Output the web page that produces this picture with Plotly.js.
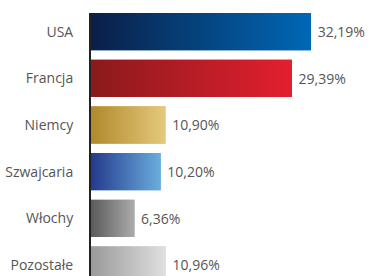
<!DOCTYPE html>
<html>
<head>
<meta charset="utf-8">
<script src="https://cdn.plot.ly/plotly-3.0.1.min.js"></script>
<style>html,body{margin:0;padding:0;background:#fff;}#chart{width:370px;height:276px;}</style>
</head>
<body>
<div id="chart"></div>
<script>
const categories = ['USA', 'Francja', 'Niemcy', 'Szwajcaria', 'Włochy', 'Pozostałe'];
const values = [32.19, 29.39, 10.90, 10.20, 6.36, 10.96];
const valueLabels = ['32,19%', '29,39%', '10,90%', '10,20%', '6,36%', '10,96%'];
const gradLeft = ['#0a1f47', '#8a1a1b', '#b1892c', '#233a8c', '#5a5a5a', '#9a9a9a'];
const gradRight = ['#0068b6', '#e31f2f', '#e4c97d', '#6badde', '#acacac', '#e0e0e0'];

const idx = categories.map((_, i) => i);
const half = 0.4;

const traces = [{
  type: 'bar',
  orientation: 'h',
  y: idx,
  x: values,
  width: half * 2,
  marker: { color: gradRight, line: { width: 0 } },
  text: valueLabels,
  texttemplate: '\u00a0%{text}',
  textposition: 'outside',
  constraintext: 'none',
  textfont: { family: 'Open Sans, sans-serif', size: 14, color: '#555555' },
  cliponaxis: false,
  hoverinfo: 'skip'
}];

values.forEach((v, i) => {
  traces.push({
    type: 'scatter',
    mode: 'none',
    x: [0, v, v, 0, 0],
    y: [i - half, i - half, i + half, i + half, i - half],
    fill: 'toself',
    fillgradient: { type: 'horizontal', colorscale: [[0, gradLeft[i]], [1, gradRight[i]]] },
    hoverinfo: 'skip',
    showlegend: false
  });
});

const layout = {
  width: 370, height: 276,
  margin: { l: 91, r: 0, t: 13, b: 0, pad: 0 },
  paper_bgcolor: '#ffffff', plot_bgcolor: '#ffffff',
  showlegend: false,
  xaxis: { range: [0, 40.82], visible: false, fixedrange: true },
  yaxis: {
    range: [5.236, -0.4],
    tickvals: idx, ticktext: categories,
    showgrid: false, zeroline: false,
    showline: true, linecolor: '#222222', linewidth: 2,
    ticks: '', ticklabelstandoff: 13,
    tickfont: { family: 'Open Sans, sans-serif', size: 14, color: '#555555' },
    fixedrange: true
  }
};

Plotly.newPlot('chart', traces, layout, { displayModeBar: false, staticPlot: true });
</script>
</body>
</html>
